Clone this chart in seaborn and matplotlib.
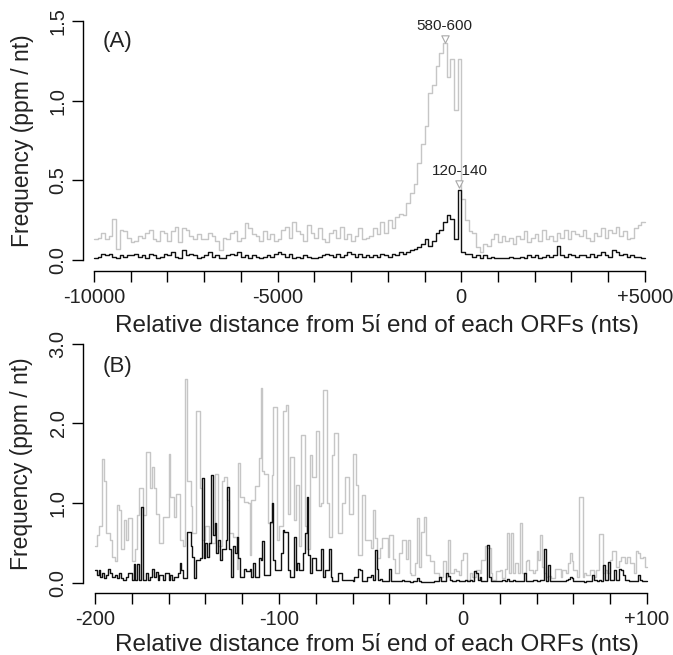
import numpy as np
import pandas as pd
import matplotlib
matplotlib.use("Agg")
import matplotlib.pyplot as plt
import seaborn as sns

sns.set_style("ticks")
plt.rcParams["font.family"] = ["Liberation Sans", "DejaVu Sans"]

# ---- panel A: 100-nt bins from -10000 to +5000 ----
a_start, a_bin = -10000, 100
a_gray = [
    0.13, 0.14, 0.17, 0.13, 0.15, 0.26, 0.07, 0.19, 0.18, 0.14,
    0.11, 0.12, 0.15, 0.14, 0.17, 0.19, 0.13, 0.12, 0.18, 0.17,
    0.12, 0.18, 0.21, 0.11, 0.20, 0.19, 0.15, 0.13, 0.16, 0.13,
    0.13, 0.17, 0.15, 0.12, 0.06, 0.14, 0.13, 0.17, 0.18, 0.12,
    0.14, 0.23, 0.20, 0.16, 0.15, 0.12, 0.18, 0.13, 0.16, 0.12,
    0.13, 0.19, 0.21, 0.14, 0.24, 0.18, 0.16, 0.12, 0.22, 0.17,
    0.14, 0.20, 0.13, 0.11, 0.17, 0.19, 0.14, 0.21, 0.13, 0.16,
    0.12, 0.15, 0.20, 0.13, 0.14,
    0.15, 0.20, 0.16, 0.24, 0.17, 0.25, 0.20, 0.27, 0.29, 0.28,
    0.36, 0.42, 0.48, 0.61, 0.73, 0.84, 1.05, 1.10, 1.22, 1.30,
    1.36, 1.15, 1.26, 0.94, 1.26,
    0.38, 0.25, 0.18, 0.17, 0.08, 0.05, 0.10, 0.09, 0.13, 0.16,
    0.11, 0.15, 0.12, 0.14, 0.10, 0.15, 0.13, 0.18, 0.11, 0.14,
    0.16, 0.12, 0.19, 0.13, 0.15, 0.12, 0.17, 0.14, 0.19, 0.13,
    0.18, 0.16, 0.15, 0.19, 0.14, 0.12, 0.17, 0.15, 0.20, 0.14,
    0.19, 0.17, 0.21, 0.15, 0.18, 0.13, 0.14, 0.20, 0.22, 0.24,
]
a_black = [
    0.01, 0.02, 0.04, 0.03, 0.04, 0.02, 0.01, 0.03, 0.02, 0.03,
    0.03, 0.04, 0.02, 0.03, 0.01, 0.04, 0.03, 0.01, 0.02, 0.04,
    0.03, 0.05, 0.02, 0.01, 0.06, 0.03, 0.04, 0.03, 0.01, 0.02,
    0.03, 0.05, 0.02, 0.03, 0.01, 0.01, 0.03, 0.04, 0.03, 0.05,
    0.02, 0.03, 0.01, 0.03, 0.02, 0.01, 0.02, 0.03, 0.02, 0.04,
    0.05, 0.04, 0.02, 0.04, 0.01, 0.02, 0.01, 0.03, 0.02, 0.01,
    0.01, 0.02, 0.03, 0.04, 0.03, 0.02, 0.04, 0.02, 0.03, 0.05,
    0.04, 0.02, 0.04, 0.02, 0.03,
    0.02, 0.03, 0.02, 0.04, 0.03, 0.02, 0.04, 0.03, 0.05, 0.04,
    0.05, 0.06, 0.07, 0.08, 0.10, 0.13, 0.09, 0.12, 0.17, 0.19,
    0.24, 0.28, 0.26, 0.13, 0.44,
    0.05, 0.04, 0.04, 0.02, 0.03, 0.01, 0.03, 0.01, 0.02, 0.01,
    0.01, 0.01, 0.01, 0.02, 0.01, 0.01, 0.02, 0.01, 0.03, 0.02,
    0.03, 0.01, 0.02, 0.03, 0.02, 0.03, 0.09, 0.03, 0.02, 0.04,
    0.03, 0.02, 0.03, 0.03, 0.02, 0.04, 0.02, 0.03, 0.05, 0.03,
    0.02, 0.06, 0.05, 0.03, 0.04, 0.02, 0.03, 0.02, 0.02, 0.01,
]

# ---- panel B: 1-nt bins from -200 to +100 ----
b_start, b_bin = -200, 1
b_gray = [
    0.46, 0.60, 0.71, 0.71, 1.55, 1.28, 0.63, 0.63, 0.54, 0.33,
    0.33, 0.27, 0.98, 0.92, 0.42, 0.42, 0.79, 0.54, 0.81, 0.81,
    0.27, 0.27, 0.42, 0.85, 1.19, 1.19, 0.85, 0.85, 1.64, 1.64,
    1.19, 1.45, 1.19, 0.87, 0.87, 0.50, 0.50, 0.83, 0.83, 0.83,
    1.62, 1.08, 1.08, 0.83, 1.12, 1.12, 0.54, 0.54, 0.46, 2.56,
    1.28, 1.28, 0.96, 0.63, 0.63, 2.15, 2.15, 1.19, 0.54, 0.54,
    0.71, 0.71, 0.50, 0.50, 0.50, 1.37, 1.37, 0.46, 0.46, 1.28,
    1.33, 1.33,
    1.04, 0.63, 0.63, 0.58, 0.58, 0.18, 1.50, 1.08, 1.08, 1.02,
    1.02, 1.00, 0.35, 1.04, 1.04, 1.21, 1.21, 1.56, 2.44, 1.40,
    1.37, 1.37, 0.75, 0.75, 1.35, 2.21, 2.21, 0.54, 0.71, 0.71,
    2.15, 2.15, 2.23, 0.87, 1.58, 1.58, 0.79, 1.23, 1.23, 0.46,
    1.85, 1.85, 0.71, 0.42, 0.42, 1.60, 1.33, 1.33, 1.90, 1.90,
    0.96, 1.00, 2.42, 2.42, 1.00, 0.58, 0.58, 1.60, 1.88, 1.88,
    0.63, 0.63, 1.00, 1.00, 1.33, 1.33, 0.87, 0.87, 1.62, 1.62,
    1.23, 0.35, 0.35, 1.10, 1.10, 0.54, 0.54, 0.54,
    0.44, 0.92, 0.56, 0.31, 0.31, 0.44, 0.56, 0.56, 0.56, 0.33,
    0.60, 0.60, 0.30, 0.12, 0.12, 0.37, 0.37, 0.54, 0.54, 0.30,
    0.54, 0.12, 0.10, 0.10, 0.25, 0.81, 0.20, 0.64, 0.64, 0.83,
    0.35, 0.35, 0.27, 0.27, 0.12, 0.12, 0.12, 0.08, 0.08, 0.27,
    0.27, 0.08, 0.54, 0.12, 0.12, 0.18, 0.15, 0.15, 0.10, 0.29,
    0.37, 0.37, 0.04, 0.04, 0.12, 0.08, 0.08, 0.16, 0.16, 0.12,
    0.29, 0.29, 0.46, 0.44, 0.44, 0.12, 0.04, 0.04, 0.15, 0.15,
    0.16, 0.06, 0.06,
    0.18, 0.63, 0.12, 0.63, 0.12, 0.25, 0.25, 0.12, 0.75, 0.12,
    0.12, 0.27, 0.29, 0.16, 0.16, 0.12, 0.16, 0.40, 0.29, 0.60,
    0.20, 0.12, 0.07, 0.09, 0.09, 0.06, 0.06, 0.17, 0.17, 0.18,
    0.07, 0.16, 0.16, 0.12, 0.25, 0.37, 0.27, 0.16, 0.16, 0.08,
    1.08, 1.08, 0.08, 0.12, 0.10, 0.10, 0.16, 0.16, 0.08, 0.16,
    0.16, 0.62, 0.62, 0.12, 0.16, 0.12, 0.12, 0.29, 0.40, 0.40,
    0.20, 0.20, 0.27, 0.33, 0.33, 0.25, 0.33, 0.33, 0.25, 0.25,
    0.12, 0.40, 0.37, 0.31, 0.31, 0.33, 0.20,
]
b_black = [
    0.16, 0.10, 0.16, 0.08, 0.12, 0.06, 0.10, 0.18, 0.12, 0.07,
    0.07, 0.10, 0.06, 0.12, 0.06, 0.04, 0.04, 0.07, 0.12, 0.12,
    0.04, 0.24, 0.04, 0.24, 0.04, 0.95, 0.04, 0.04, 0.12, 0.04,
    0.08, 0.18, 0.08, 0.14, 0.04, 0.10, 0.10, 0.04, 0.12, 0.12,
    0.04, 0.10, 0.04, 0.07, 0.07, 0.12, 0.25, 0.16, 0.06, 0.06,
    0.64, 0.64, 0.46, 0.33, 0.06, 0.29, 0.29, 0.31, 1.32, 0.31,
    0.50, 0.33, 0.50, 1.35, 0.60, 0.75, 0.38, 0.54, 0.29, 0.42,
    0.42, 0.54,
    1.20, 0.42, 0.07, 0.46, 0.38, 0.58, 0.31, 0.07, 0.07, 0.18,
    0.15, 0.15, 0.18, 0.07, 0.25, 0.07, 0.07, 0.31, 0.29, 0.52,
    0.10, 0.10, 0.10, 0.77, 1.00, 0.29, 0.16, 0.16, 0.16, 0.37,
    0.66, 0.64, 0.64, 0.16, 0.07, 0.07, 0.58, 0.16, 0.25, 0.16,
    0.16, 0.38, 0.63, 1.08, 0.35, 0.12, 0.31, 0.31, 0.16, 0.16,
    0.16, 0.43, 0.07, 0.16, 0.16, 0.43, 0.07, 0.02, 0.02, 0.02,
    0.12, 0.12, 0.04, 0.04, 0.04, 0.04, 0.04, 0.04, 0.03, 0.07,
    0.07, 0.18, 0.16, 0.02, 0.02, 0.02, 0.07, 0.07,
    0.10, 0.04, 0.41, 0.18, 0.04, 0.05, 0.03, 0.03, 0.03, 0.03,
    0.18, 0.03, 0.02, 0.02, 0.02, 0.02, 0.02, 0.04, 0.03, 0.02,
    0.02, 0.01, 0.01, 0.03, 0.03, 0.06, 0.03, 0.01, 0.01, 0.01,
    0.01, 0.01, 0.01, 0.01, 0.03, 0.03, 0.03, 0.07, 0.03, 0.03,
    0.03, 0.12, 0.09, 0.04, 0.03, 0.03, 0.04, 0.04, 0.02, 0.03,
    0.03, 0.04, 0.03, 0.03, 0.04, 0.03, 0.15, 0.12, 0.04, 0.07,
    0.03, 0.03, 0.03, 0.48, 0.07, 0.03, 0.03, 0.02, 0.02, 0.03,
    0.03, 0.04, 0.04,
    0.03, 0.05, 0.02, 0.02, 0.04, 0.02, 0.02, 0.03, 0.03, 0.03,
    0.12, 0.02, 0.02, 0.02, 0.02, 0.04, 0.04, 0.03, 0.03, 0.04,
    0.04, 0.42, 0.03, 0.23, 0.02, 0.02, 0.02, 0.02, 0.03, 0.03,
    0.03, 0.02, 0.02, 0.04, 0.05, 0.07, 0.06, 0.02, 0.03, 0.02,
    0.02, 0.02, 0.02, 0.01, 0.02, 0.03, 0.03, 0.10, 0.04, 0.04,
    0.03, 0.04, 0.03, 0.23, 0.04, 0.04, 0.26, 0.04, 0.04, 0.16,
    0.04, 0.04, 0.18, 0.16, 0.10, 0.04, 0.04, 0.03, 0.02, 0.02,
    0.02, 0.02, 0.10, 0.04, 0.03, 0.03, 0.03,
]

assert len(a_gray) == len(a_black) == 150, (len(a_gray), len(a_black))
assert len(b_gray) == len(b_black) == 300, (len(b_gray), len(b_black))

a_xticks = list(range(-10000, 5001, 1000))
a_xlabels = {-10000: "-10000", -5000: "-5000", 0: "0", 5000: "+5000"}
a_yticks = [0.0, 0.5, 1.0, 1.5]
b_xticks = list(range(-200, 101, 20))
b_xlabels = {-200: "-200", -100: "-100", 0: "0", 100: "+100"}
b_yticks = [0.0, 1.0, 2.0, 3.0]
peak_labels = ["580-600", "120-140"]

xlabel = "Relative distance from 5ί end of each ORFs (nts)"
ylabel = "Frequency (ppm / nt)"
GRAY = "#c6c6c6"
BLACK = "#111111"


def steps(vals, start, width):
    x = start + width * np.arange(len(vals) + 1)
    y = list(vals) + [vals[-1]]
    return pd.DataFrame({"x": x, "y": y})


def style_axis(ax, xticks, xlabels, yticks, xlim, ylim):
    ax.set_xlim(*xlim)
    ax.set_ylim(*ylim)
    for s in ["top", "right"]:
        ax.spines[s].set_visible(False)
    ax.spines["left"].set_bounds(yticks[0], yticks[-1])
    ax.spines["bottom"].set_bounds(xticks[0], xticks[-1])
    for s in ["left", "bottom"]:
        ax.spines[s].set_linewidth(1.0)
        ax.spines[s].set_color("black")
    ax.set_xticks(xticks, [xlabels.get(t, "") for t in xticks])
    ax.set_yticks(yticks, [f"{t:.1f}" for t in yticks])
    ax.tick_params(axis="both", length=8, width=1.0, color="black",
                   labelsize=14.5, labelcolor="#222222", direction="out")
    ax.tick_params(axis="x", pad=4)
    ax.tick_params(axis="y", pad=3)
    for lbl in ax.get_yticklabels():
        lbl.set_rotation(90)
        lbl.set_va("center")
    ax.set_xlabel(xlabel, fontsize=17.5, color="#222222", va="center")
    ax.set_ylabel(ylabel, fontsize=16.5, color="#222222", va="center")
    ax.set_facecolor("white")


fig = plt.figure(figsize=(6.73, 6.55), dpi=100)
fig.patch.set_facecolor("white")
axA = fig.add_axes([0.1233, 0.5863, 0.8514, 0.3969])
axB = fig.add_axes([0.1233, 0.0947, 0.8559, 0.3954])

# panel A
for vals, col in [(a_gray, GRAY), (a_black, BLACK)]:
    sns.lineplot(data=steps(vals, a_start, a_bin), x="x", y="y", ax=axA,
                 color=col, lw=1.0, drawstyle="steps-post",
                 estimator=None, sort=False)
style_axis(axA, a_xticks, a_xlabels, a_yticks, (-10300, 5300), (-0.069, 1.563))
axA.xaxis.set_label_coords(0.513, -0.208)
axA.yaxis.set_label_coords(-0.106, 0.5)
axA.text(-9350, 1.37, "(A)", fontsize=16, color="#222222", ha="center", va="center")

# peak markers
for vals, lab, off in [(a_gray, peak_labels[0], 0.03), (a_black, peak_labels[1], 0.04)]:
    i = int(np.argmax(vals))
    px = a_start + a_bin * i + a_bin / 2
    py = vals[i] + off
    axA.scatter([px], [py], marker="v", s=28, facecolor="white",
                edgecolor="#a8a8a8", linewidth=0.8, zorder=5)
    axA.text(px, py + 0.08, lab, fontsize=11, color="#222222",
             ha="center", va="center")

# panel B
for vals, col in [(b_gray, GRAY), (b_black, BLACK)]:
    sns.lineplot(data=steps(vals, b_start, b_bin), x="x", y="y", ax=axB,
                 color=col, lw=1.0, drawstyle="steps-post",
                 estimator=None, sort=False)
style_axis(axB, b_xticks, b_xlabels, b_yticks, (-206.5, 106.5), (-0.125, 3.12))
axB.xaxis.set_label_coords(0.51, -0.2)
axB.yaxis.set_label_coords(-0.106, 0.5)
axB.text(-187.5, 2.71, "(B)", fontsize=16, color="#222222", ha="center", va="center")

fig.savefig("out.png", dpi=100, facecolor="white")
